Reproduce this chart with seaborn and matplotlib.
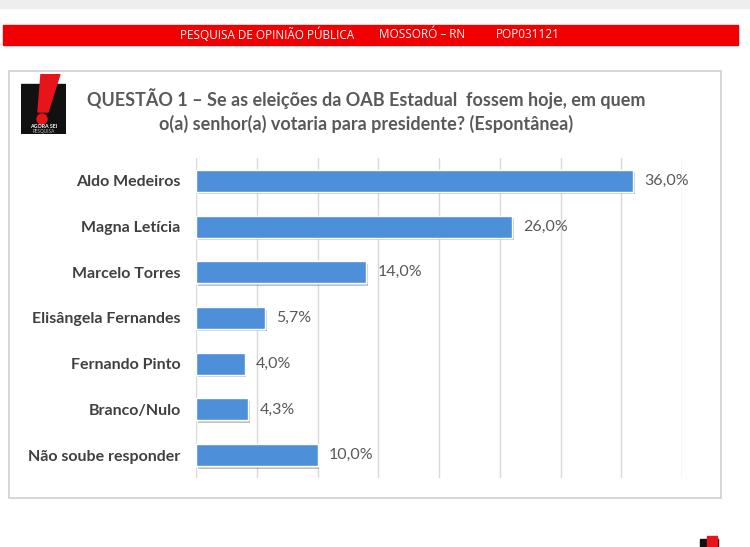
import matplotlib
matplotlib.use("Agg")
import matplotlib.pyplot as plt
import matplotlib.patheffects as pe
from matplotlib.patches import Rectangle, Polygon, Circle
import seaborn as sns
import pandas as pd

# data
candidatos = ["Aldo Medeiros", "Magna Letícia", "Marcelo Torres",
              "Elisângela Fernandes", "Fernando Pinto", "Branco/Nulo",
              "Não soube responder"]
percentuais = [36.0, 26.0, 14.0, 5.7, 4.0, 4.3, 10.0]
rotulos = ["36,0%", "26,0%", "14,0%", "5,7%", "4,0%", "4,3%", "10,0%"]
cabecalho = ["PESQUISA DE OPINIÃO PÚBLICA", "MOSSORÓ – RN", "POP031121"]
titulo = ("QUESTÃO 1 – Se as eleições da OAB Estadual  fossem hoje, em quem\n"
          "o(a) senhor(a) votaria para presidente? (Espontânea)")

df = pd.DataFrame({"candidato": candidatos, "pct": percentuais})

sns.set_theme(style="white")
plt.rcParams["font.family"] = ["Lato", "DejaVu Sans"]

W, H = 750, 547
fig = plt.figure(figsize=(7.5, 5.47), dpi=100)
fig.patch.set_facecolor("white")

def fx(px):
    return px / W

def fy(py):
    return 1 - py / H

# light strip at the very top
fig.patches.append(Rectangle((0, fy(8)), 1, 8 / H, transform=fig.transFigure,
                             color="#eeeeee", zorder=0))
# red banner
fig.patches.append(Rectangle((fx(3), fy(45)), fx(735), 20 / H, transform=fig.transFigure,
                             color="#f00000", zorder=1))
for txt, x in zip(cabecalho, [267, 422, 528]):
    fig.text(fx(x), fy(35), txt, color="white", fontsize=8.5, ha="center",
             va="center", family=["Open Sans", "DejaVu Sans"])

# box around the chart
fig.patches.append(Rectangle((fx(9), fy(498)), fx(712), 427 / H, transform=fig.transFigure,
                             fill=False, edgecolor="#d0d0d0", lw=1.2, zorder=1))

# title
fig.text(fx(366), fy(111), titulo, ha="center", va="center", fontsize=13,
         fontweight="bold", color="#595959", linespacing=1.4)

# logo
lax = fig.add_axes([fx(21), fy(134), fx(45), 60 / H])
lax.set_xlim(0, 45)
lax.set_ylim(0, 60)
lax.axis("off")
lax.add_patch(Rectangle((0, 0), 45, 50, color="#111111"))
lax.add_patch(Polygon([[17, 22], [27, 22], [39, 60], [20, 60]], color="#e8141c"))
lax.add_patch(Circle((21, 15), 5, color="#e8141c"))
lax.text(22.5, 7.5, "AGORA SEI", color="white", fontsize=3.8, ha="center",
         va="center", fontweight="bold")
lax.text(22.5, 2.5, "PESQUISA", color="#bbbbbb", fontsize=3.4, ha="center", va="center")

# bar chart
ax = fig.add_axes([fx(196), fy(478), fx(682 - 196), (478 - 158) / H])
sns.barplot(data=df, x="pct", y="candidato", orient="h", color="#4d8fd8",
            width=0.48, saturation=1, ax=ax)
for bar in ax.patches:
    bar.set_path_effects([pe.withSimplePatchShadow(offset=(1.2, -1.8),
                                                   shadow_rgbFace="#666666", alpha=0.4),
                          pe.Normal()])
    bar.set_zorder(3)

ax.set_xlim(0, 40)
ax.set_ylim(6.5, -0.5)
ax.set_xticks(range(0, 41, 5))
ax.xaxis.grid(True, color="#d9d9d9", lw=1)
ax.set_axisbelow(True)
ax.tick_params(axis="x", labelbottom=False, length=0)
ax.tick_params(axis="y", length=0, pad=11)
for s in ax.spines.values():
    s.set_visible(False)
ax.set_xlabel("")
ax.set_ylabel("")
for lab in ax.get_yticklabels():
    lab.set_fontweight("bold")
    lab.set_fontsize(11.5)
    lab.set_color("#404040")

for i, (v, t) in enumerate(zip(percentuais, rotulos)):
    ax.annotate(t, (v, i), xytext=(8, 0), textcoords="offset points",
                va="center", ha="left", fontsize=11.5, color="#595959")

# small logo fragment in the bottom-right corner
fig.patches.append(Rectangle((fx(700), 0), fx(18), 8 / H, transform=fig.transFigure,
                             color="#111111"))
fig.patches.append(Rectangle((fx(707), 0), fx(10), 11 / H, transform=fig.transFigure,
                             color="#e8141c"))

fig.savefig("out.png", dpi=100)
